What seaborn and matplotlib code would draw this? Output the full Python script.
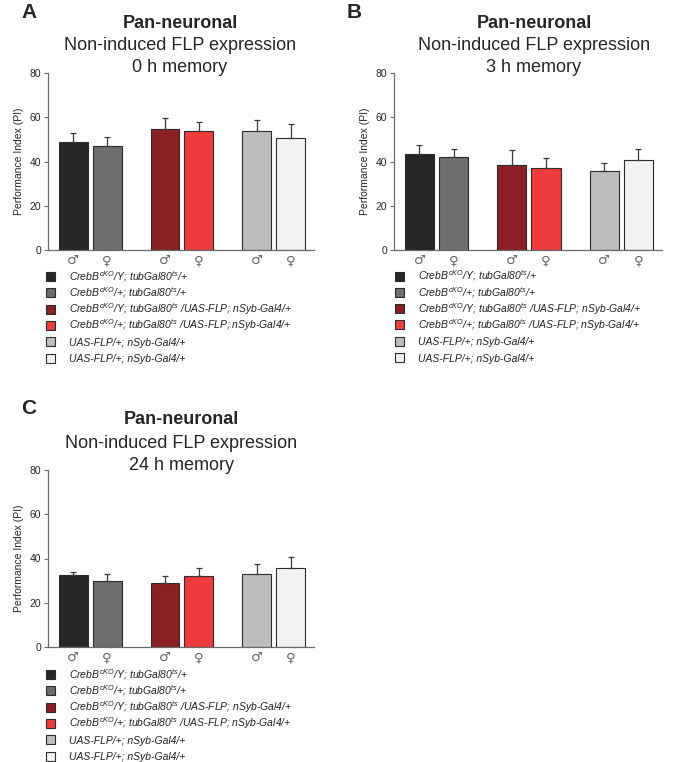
import numpy as np
import pandas as pd
import matplotlib
matplotlib.use("Agg")
import matplotlib.pyplot as plt
import seaborn as sns
from matplotlib.patches import Rectangle

# genotype groups, each with male and female bars
groups = ["CrebB_Y", "CrebB_FLP", "UAS_FLP"]
sexes = ["male", "female"]
sex_symbols = ["\u2642", "\u2640"]

legend_labels = [
    r"Creb$B^{cKO}$/Y; tubGal$80^{ts}$/+",
    r"Creb$B^{cKO}$/+; tubGal$80^{ts}$/+",
    r"Creb$B^{cKO}$/Y; tubGal$80^{ts}$ /UAS-FLP; nSyb-Gal4/+",
    r"Creb$B^{cKO}$/+; tubGal$80^{ts}$ /UAS-FLP; nSyb-Gal4/+",
    "UAS-FLP/+; nSyb-Gal4/+",
    "UAS-FLP/+; nSyb-Gal4/+",
]
bar_colors = ["#262626", "#6e6e6e", "#8b2124", "#ef3b3b", "#bdbdbd", "#f1f2f2"]

# performance index (mean) and SEM, order: group0 m/f, group1 m/f, group2 m/f
pi_0h = [48.7, 47.1, 54.9, 54.0, 53.8, 50.4]
sem_0h = [4.4, 3.9, 4.8, 4.0, 5.1, 6.7]
pi_3h = [43.5, 42.0, 38.3, 37.0, 35.8, 40.6]
sem_3h = [4.0, 3.7, 6.8, 4.4, 3.6, 5.1]
pi_24h = [32.5, 29.9, 29.0, 32.3, 33.2, 35.5]
sem_24h = [1.6, 3.0, 3.2, 3.2, 4.1, 5.3]

sns.set_style("ticks")
plt.rcParams["font.family"] = ["Liberation Sans", "DejaVu Sans"]
plt.rcParams["mathtext.fontset"] = "custom"
plt.rcParams["mathtext.rm"] = "Liberation Sans:italic"
plt.rcParams["mathtext.it"] = "Liberation Sans:italic"
plt.rcParams["mathtext.default"] = "it"

W, H = 686, 762
fig = plt.figure(figsize=(W / 100, H / 100), dpi=100)

spine_col = "#6a6a6a"
edge_col = "#2b2b2b"


def draw_panel(ax, pi, sem):
    df = pd.DataFrame({
        "group": np.repeat(groups, 2),
        "sex": sexes * len(groups),
        "pi": pi,
    })
    sns.barplot(data=df, x="group", y="pi", hue="sex", hue_order=sexes,
                width=0.74, gap=0.15, legend=False, ax=ax,
                edgecolor=edge_col, linewidth=0.8, errorbar=None)
    bars = sorted(ax.patches, key=lambda p: p.get_x())
    xs = []
    for bar, col in zip(bars, bar_colors):
        bar.set_facecolor(col)
        bar.set_edgecolor(edge_col)
        xs.append(bar.get_x() + bar.get_width() / 2)
    ax.errorbar(xs, pi, yerr=[np.zeros(len(sem)), sem], fmt="none",
                ecolor="#3a3a3a", elinewidth=0.9, capsize=2.2, capthick=0.9,
                zorder=1)
    ax.set_xticks(xs)
    ax.set_xticklabels(sex_symbols * len(groups), fontsize=9.5,
                       color="#666666", family="DejaVu Sans")
    ax.tick_params(axis="x", length=0, pad=3)
    ax.tick_params(axis="y", length=3, width=0.8, color=spine_col,
                   labelsize=7.5, pad=2)
    ax.set_ylim(0, 80)
    ax.set_yticks([0, 20, 40, 60, 80])
    ax.set_xlim(-0.46, 2.44)
    ax.set_xlabel("")
    ax.set_ylabel("Performance Index (PI)", fontsize=7.5, labelpad=4)
    for s in ["top", "right"]:
        ax.spines[s].set_visible(False)
    for s in ["left", "bottom"]:
        ax.spines[s].set_color(spine_col)
        ax.spines[s].set_linewidth(0.9)


def titles(xc, ytop, memory):
    fig.text(xc / W, 1 - ytop / H, "Pan-neuronal", ha="center", va="center",
             fontsize=13, fontweight="bold")
    fig.text(xc / W, 1 - (ytop + 23) / H, "Non-induced FLP expression",
             ha="center", va="center", fontsize=13)
    fig.text(xc / W, 1 - (ytop + 45) / H, memory, ha="center", va="center",
             fontsize=13)


def legend(x, y0, step=16.3):
    # square swatches with italic genotype labels, one row per bar colour
    for i, (col, lab) in enumerate(zip(bar_colors, legend_labels)):
        yc = y0 + i * step
        fig.add_artist(Rectangle((x / W, 1 - (yc + 4.5) / H), 9 / W, 9 / H,
                                 transform=fig.transFigure, facecolor=col,
                                 edgecolor=edge_col, linewidth=0.8))
        fig.text((x + 23) / W, 1 - (yc + 4.0) / H, lab, ha="left",
                 va="baseline", fontsize=7.5, style="italic", color="#222222")


axA = fig.add_axes([48 / W, 1 - 250 / H, 266 / W, 177 / H])
draw_panel(axA, pi_0h, sem_0h)
titles(180, 23, "0 h memory")
legend(46, 276.5)

axB = fig.add_axes([394 / W, 1 - 250 / H, 268 / W, 177 / H])
draw_panel(axB, pi_3h, sem_3h)
titles(534, 23, "3 h memory")
legend(395, 276)

axC = fig.add_axes([48 / W, 1 - 647 / H, 266 / W, 177 / H])
draw_panel(axC, pi_24h, sem_24h)
titles(181, 420, "24 h memory")
legend(46, 674.5)

for letter, x, y in [("A", 29, 13), ("B", 354, 13), ("C", 29, 408)]:
    fig.text(x / W, 1 - y / H, letter, ha="center", va="center",
             fontsize=15, fontweight="bold")

fig.savefig("out.png", dpi=100)
